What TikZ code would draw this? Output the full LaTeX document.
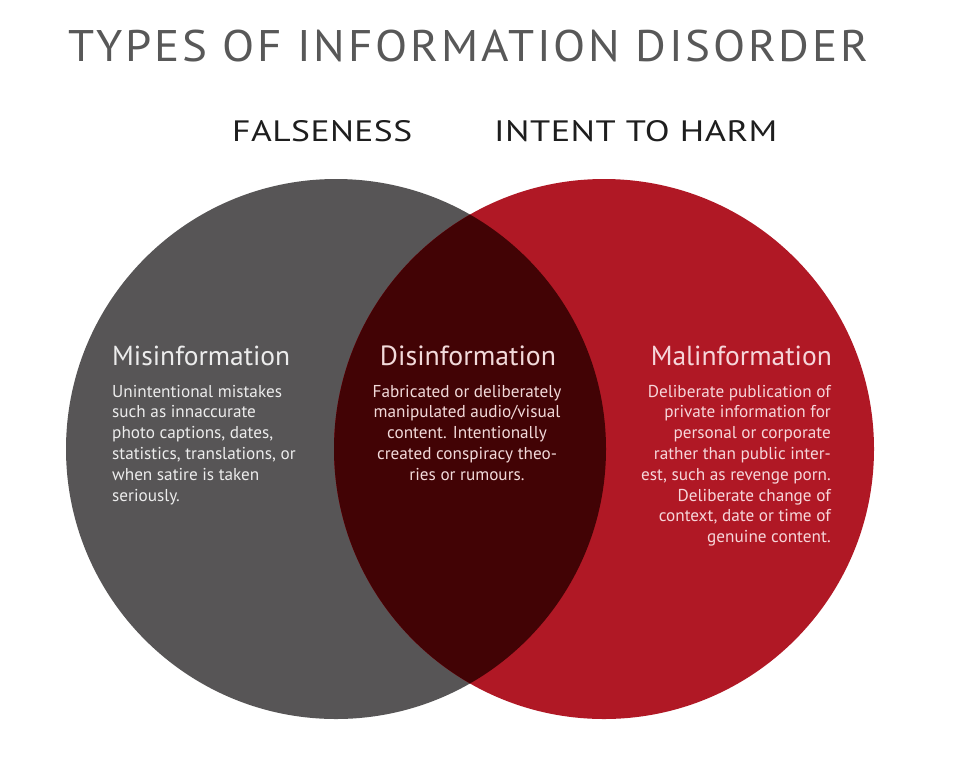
\documentclass[tikz,border=0pt]{standalone}
\usepackage{fontspec}
\usepackage{graphicx}
\setmainfont{PT Sans}
\newfontfamily\titlefont[LetterSpace=5.0,FakeStretch=0.84]{PT Sans}
\newfontfamily\subfont[LetterSpace=1.0,FakeStretch=0.78]{PT Sans}
\definecolor{graycirc}{RGB}{87,85,86}
\definecolor{redcirc}{RGB}{176,24,37}
\definecolor{darkover}{RGB}{66,3,5}
\definecolor{titlegray}{RGB}{88,88,88}
\definecolor{subdark}{RGB}{30,30,30}
\definecolor{txtgray}{RGB}{236,236,236}
\definecolor{txtdark}{RGB}{242,218,218}
\definecolor{txtred}{RGB}{246,214,218}
\tikzset{
  headtext/.style={inner sep=0pt},
  bodytext/.style={inner sep=0pt,font=\fontsize{17.2}{20.8}\selectfont},
}
\begin{document}
\begin{tikzpicture}[x=1pt,y=-1pt]
\useasboundingbox (0,0) rectangle (974,764);
\fill[white] (0,0) rectangle (974,764);
% circles
\fill[graycirc] (336,449) circle[radius=270];
\fill[redcirc] (604,449) circle[radius=270];
\begin{scope}
  \clip (336,449) circle[radius=270];
  \fill[darkover] (604,449) circle[radius=270];
\end{scope}
% titles
\node[headtext,anchor=base west,text=titlegray] (title) at (68,61)
  {\resizebox{800pt}{31.5pt}{\titlefont TYPES OF INFORMATION DISORDER}};
\node[headtext,anchor=base west,text=subdark] (falseness) at (232,141)
  {\resizebox{180pt}{21pt}{\subfont FALSENESS}};
\node[headtext,anchor=base west,text=subdark] (intent) at (494,141)
  {\resizebox{283pt}{21pt}{\subfont INTENT TO HARM}};
% headings
\node[headtext,anchor=base west,text=txtgray] (mis) at (112,365)
  {\resizebox{178pt}{!}{Misinformation}};
\node[headtext,anchor=base,text=txtdark] (dis) at (468,365)
  {\resizebox{176pt}{!}{Disinformation}};
\node[headtext,anchor=base east,text=txtred] (mal) at (832,365)
  {\resizebox{181pt}{!}{Malinformation}};
% bodies
\node[bodytext,anchor=base west,text=txtgray] (misbody) at (112,397)
  {\begin{tabular}[t]{@{}l@{}}Unintentional mistakes\\ such as innaccurate\\ photo captions, dates,\\ statistics, translations, or\\ when satire is taken\\ seriously.\end{tabular}};
\node[bodytext,anchor=base,text=txtdark] (disbody) at (467,397)
  {\begin{tabular}[t]{@{}c@{}}Fabricated or deliberately\\ manipulated audio/visual\\ content. Intentionally\\ created conspiracy theo-\\ ries or rumours.\end{tabular}};
\node[bodytext,anchor=base east,text=txtred] (malbody) at (831,397)
  {\begin{tabular}[t]{@{}r@{}}Deliberate publication of\\ private information for\\ personal or corporate\\ rather than public inter-\\ est, such as revenge porn.\\ Deliberate change of\\ context, date or time of\\ genuine content.\end{tabular}};
\end{tikzpicture}
\end{document}
